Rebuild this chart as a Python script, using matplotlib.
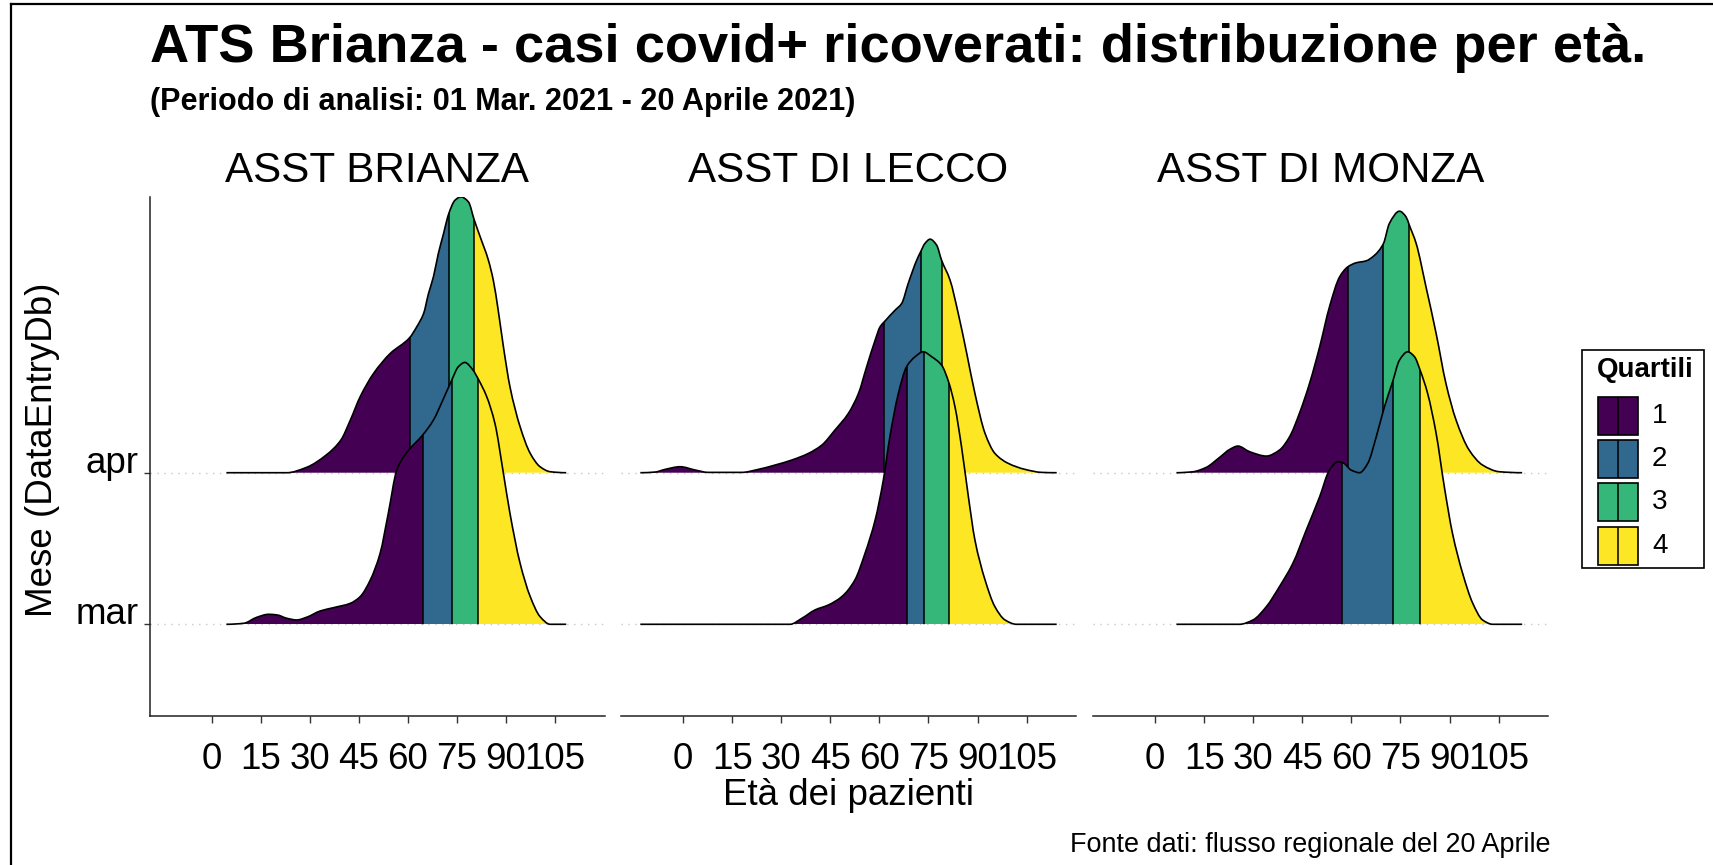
import numpy as np
import matplotlib
matplotlib.use("Agg")
import matplotlib.pyplot as plt
from matplotlib.path import Path
from matplotlib.patches import PathPatch, Rectangle
from matplotlib.lines import Line2D

plt.rcParams['font.family'] = ['Liberation Sans', 'DejaVu Sans']

# ---------------- data ----------------
title = "ATS Brianza - casi covid+ ricoverati: distribuzione per età."
subtitle = "(Periodo di analisi: 01 Mar. 2021 - 20 Aprile 2021)"
caption = "Fonte dati: flusso regionale del 20 Aprile"
x_label = "Età dei pazienti"
y_label = "Mese (DataEntryDb)"
legend_title = "Quartili"

panels = ["ASST BRIANZA", "ASST DI LECCO", "ASST DI MONZA"]
months = ["mar", "apr"]
quartile_labels = ["1", "2", "3", "4"]
quartile_colors = ["#440154", "#31688E", "#35B779", "#FDE725"]
x_ticks = [0, 15, 30, 45, 60, 75, 90, 105]

# relative density (arbitrary units) read at given ages
ages_brianza_apr = [4.5, 23, 29, 35, 39.5, 42.4, 45.4, 49.5, 54.6, 60.5, 62.7, 64.8, 66.3, 67.8, 69.3, 70.9,
                    71.9, 72.5, 74.4, 76.2, 78.5, 80.3, 82.1, 84.6, 86.1, 87.6, 89.2, 91.2, 94.3, 97.4, 100.4,
                    103.5, 108.4]
dens_brianza_apr = [0, 0, 16, 53, 98, 158, 228, 298, 358, 405, 438, 478, 538, 588, 658, 718,
                    758, 778, 818, 828, 813, 758, 708, 638, 578, 488, 378, 258, 138, 58, 18,
                    3, 0]
quart_brianza_apr = [60.5, 72.5, 80.3]

ages_brianza_mar = [4.5, 9.8, 13.8, 17.4, 20, 23, 26, 29, 33.2, 37.3, 42.4, 45.4, 48.5, 51.5, 54, 56.6,
                    58.7, 60.7, 64.5, 67.8, 70.9, 73.4, 75.4, 77.4, 79.9, 81.4, 84.1, 86.6, 89.2, 91.2,
                    94.3, 97.4, 100.4, 103.5, 108.4]
dens_brianza_mar = [0, 3, 21, 30, 28, 18, 13, 21, 40, 50, 63, 83, 133, 213, 333, 463,
                    503, 528, 568, 613, 678, 733, 773, 786, 763, 738, 683, 603, 453, 333,
                    183, 83, 23, 0, 0]
quart_brianza_mar = [64.5, 73.4, 81.4]

ages_lecco_apr = [-13.1, -8.6, -5.5, -0.9, 3.7, 7.7, 17.9, 23, 28.1, 33.2, 38.3, 42.4, 46.4, 50.5, 53.6,
                  56.1, 58.7, 60.2, 61.5, 64.8, 66.8, 68.8, 71.4, 72.6, 73.9, 75.5, 77.5, 79, 81.6, 84.1,
                  86.7, 89.2, 92.3, 95.3, 99.4, 104.5, 109.6, 114.2]
dens_lecco_apr = [0, 2, 10, 18, 8, 1, 1, 10, 23, 38, 58, 83, 128, 178, 238,
                  318, 398, 438, 453, 488, 508, 568, 638, 663, 688, 701, 683, 638, 578, 478,
                  358, 238, 118, 58, 28, 10, 1, 0]
quart_lecco_apr = [61.5, 72.6, 79.0]

ages_lecco_mar = [-13.1, 32.7, 36.3, 40.3, 44.4, 48.5, 52.5, 55.6, 58.7, 61.2, 63.2, 65.8, 68.3, 70.9,
                  73.4, 76, 79, 81.3, 83.1, 85.1, 87.2, 89.2, 92.3, 95.3, 98.4, 101.9, 114.2]
dens_lecco_mar = [0, 0, 18, 43, 58, 83, 133, 213, 313, 433, 563, 693, 773, 803,
                  818, 803, 778, 723, 653, 533, 383, 253, 133, 53, 13, 0, 0]
quart_lecco_mar = [68.3, 73.6, 81.3]

ages_monza_apr = [6.5, 11.6, 15.6, 19.7, 22.8, 25.3, 28.9, 34, 38, 41.1, 44.1, 47.2, 50.3, 53.3, 56.4,
                  58.9, 61.4, 64.5, 67.1, 69.8, 71.6, 74.7, 76.7, 77.7, 79.8, 82.8, 85.9, 88.9, 92, 96,
                  100.1, 105.2, 112.2]
dens_monza_apr = [0, 3, 16, 46, 70, 80, 63, 50, 68, 108, 178, 268, 378, 498, 588,
                  618, 630, 636, 653, 688, 748, 785, 768, 743, 688, 558, 418, 268, 158, 68,
                  23, 3, 0]
quart_monza_apr = [58.9, 69.8, 77.7]

ages_monza_mar = [6.5, 25.8, 29.9, 34, 38, 42.1, 46.2, 50.3, 53.3, 55.9, 57.4, 59.9, 62.5, 65, 67.6,
                  70.1, 72.6, 74.7, 77.2, 79.3, 81, 83.3, 85.9, 88.4, 90.9, 94, 97.1, 100.1, 103.2, 112.2]
dens_monza_mar = [0, 0, 13, 53, 113, 183, 283, 383, 463, 488, 485, 463, 455, 483, 563,
                  653, 728, 793, 818, 803, 763, 693, 573, 413, 273, 153, 63, 13, 0, 0]
quart_monza_mar = [57.2, 72.7, 81.0]

ridges = {
    "ASST BRIANZA": {"mar": (ages_brianza_mar, dens_brianza_mar, quart_brianza_mar),
                     "apr": (ages_brianza_apr, dens_brianza_apr, quart_brianza_apr)},
    "ASST DI LECCO": {"mar": (ages_lecco_mar, dens_lecco_mar, quart_lecco_mar),
                      "apr": (ages_lecco_apr, dens_lecco_apr, quart_lecco_apr)},
    "ASST DI MONZA": {"mar": (ages_monza_mar, dens_monza_mar, quart_monza_mar),
                      "apr": (ages_monza_apr, dens_monza_apr, quart_monza_apr)},
}

# ---------------- layout ----------------
W, H = 1713, 865
DENS_SCALE = 1 / 455.0
fig = plt.figure(figsize=(W / 100, H / 100), dpi=100)


def fx(px):
    return px / W


def fy(py):
    return 1 - py / H


def slopes(x, y):
    n = len(x)
    dx = np.diff(x)
    s = np.diff(y) / dx
    d = np.zeros(n)
    for i in range(1, n - 1):
        if s[i - 1] * s[i] > 0:
            w1 = 2 * dx[i] + dx[i - 1]
            w2 = dx[i] + 2 * dx[i - 1]
            d[i] = (w1 + w2) / (w1 / s[i - 1] + w2 / s[i])
    return d


def ridge_paths(x, h, base):
    x = np.asarray(x, float)
    y = base + np.asarray(h, float) * DENS_SCALE
    d = slopes(x, y)
    verts = [(x[0], y[0])]
    codes = [Path.MOVETO]
    for i in range(len(x) - 1):
        dx = x[i + 1] - x[i]
        verts += [(x[i] + dx / 3, y[i] + d[i] * dx / 3),
                  (x[i + 1] - dx / 3, y[i + 1] - d[i + 1] * dx / 3),
                  (x[i + 1], y[i + 1])]
        codes += [Path.CURVE4] * 3
    outline = Path(verts, codes)
    cverts = [(x[0], base)] + verts + [(x[-1], base), (x[0], base)]
    ccodes = [Path.MOVETO, Path.LINETO] + codes[1:] + [Path.LINETO, Path.CLOSEPOLY]
    closed = Path(cverts, ccodes)
    return outline, closed


panel_left = [149.5, 621, 1093]
panel_w = 455
panel_top, panel_bot = 197, 716
axes = []
for k, name in enumerate(panels):
    ax = fig.add_axes([fx(panel_left[k]), fy(panel_bot), panel_w / W, (panel_bot - panel_top) / H])
    axes.append(ax)
    ax.set_xlim(-19.0, 120.1)
    ax.set_ylim(0.395, 3.819)
    for j, m in enumerate(months):
        ax.axhline(j + 1, color="#c8c8c8", lw=1.0, ls=(0, (1, 4)), zorder=0.5)
    # draw apr first (upper), then mar on top
    for j in [1, 0]:
        m = months[j]
        base = j + 1
        ages, dens, q = ridges[name][m]
        zb = 2 + (1 - j) * 4
        outline, closed = ridge_paths(ages, dens, base)
        clip = PathPatch(closed, transform=ax.transData, facecolor="none", edgecolor="none")
        bounds = [ages[0]] + list(q) + [ages[-1]]
        for qi in range(4):
            r = Rectangle((bounds[qi], base), bounds[qi + 1] - bounds[qi], 3.0,
                          facecolor=quartile_colors[qi], edgecolor="none", zorder=zb)
            ax.add_patch(r)
            r.set_clip_path(clip)
        for qv in q:
            ln, = ax.plot([qv, qv], [base, base + 3.0], color="black", lw=1.1, zorder=zb + 1)
            ln.set_clip_path(clip)
        ax.add_patch(PathPatch(outline, facecolor="none", edgecolor="black", lw=1.2, zorder=zb + 2))
    # axes styling
    for s in ["top", "right"]:
        ax.spines[s].set_visible(False)
    ax.spines["bottom"].set_color("#222222")
    ax.spines["bottom"].set_linewidth(1.1)
    ax.set_xticks(x_ticks)
    ax.set_xticklabels([str(t) for t in x_ticks])
    ax.tick_params(axis="x", length=5, width=1.0, color="#333333", labelsize=26.5, pad=13.5,
                   labelcolor="black")
    if k == 0:
        ax.spines["left"].set_color("#222222")
        ax.spines["left"].set_linewidth(1.1)
        ax.set_yticks([1, 2])
        ax.set_yticklabels(months, va="baseline")
        ax.tick_params(axis="y", length=4.3, width=1.0, color="#333333", labelsize=26.5, pad=3.6,
                       labelcolor="black")
    else:
        ax.spines["left"].set_visible(False)
        ax.set_yticks([])
    ax.set_facecolor("none")

# ---------------- texts ----------------
t_title = fig.text(fx(150), fy(62), title, fontsize=34, fontweight="bold", ha="left", va="baseline")
t_sub = fig.text(fx(150), fy(110), subtitle, fontsize=17, fontweight="bold", ha="left", va="baseline")
strips = []
for k, name in enumerate(panels):
    strips.append(fig.text(fx(panel_left[k] + panel_w / 2), fy(182), name, fontsize=30,
                           ha="center", va="baseline"))
t_xl = fig.text(fx(848.5), fy(805), x_label, fontsize=26.5, ha="center", va="baseline")
t_yl = fig.text(fx(43), fy(450), y_label, fontsize=26.5, ha="center", va="center", rotation=90)
t_cap = fig.text(fx(1551), fy(852), caption, fontsize=18, ha="right", va="baseline")

# legend
fig.add_artist(Rectangle((fx(1582), fy(568)), (1704 - 1582) / W, (568 - 350) / H,
                         transform=fig.transFigure, facecolor="white", edgecolor="black", lw=1.2))
t_leg = fig.text(fx(1597), fy(377), legend_title, fontsize=20, fontweight="bold", ha="left",
                 va="baseline")
for i, lab in enumerate(quartile_labels):
    top = 397 + i * 43.2
    fig.add_artist(Rectangle((fx(1598), fy(top + 38)), 40 / W, 38 / H, transform=fig.transFigure,
                             facecolor=quartile_colors[i], edgecolor="black", lw=1.2))
    fig.add_artist(Line2D([fx(1618), fx(1618)], [fy(top + 1), fy(top + 37)], transform=fig.transFigure,
                          color="black", lw=1.1))
    fig.text(fx(1652), fy(top + 19), lab, fontsize=20, ha="left", va="center")

# outer frame (top and left edges of the screenshot)
fig.add_artist(Line2D([fx(11), 1], [fy(4), fy(4)], transform=fig.transFigure, color="black", lw=1.6))
fig.add_artist(Line2D([fx(11), fx(11)], [0, fy(4)], transform=fig.transFigure, color="black", lw=1.6))

# fit main texts to measured widths
fig.canvas.draw()
r = fig.canvas.get_renderer()


def fit(t, width_px, vertical=False):
    bb = t.get_window_extent(renderer=r)
    cur = bb.height if vertical else bb.width
    t.set_fontsize(t.get_fontsize() * width_px / cur)


fit(t_title, 1498)
fit(t_sub, 708)
fit(strips[0], 303)
for s in strips[1:]:
    s.set_fontsize(strips[0].get_fontsize())
fit(t_cap, 480)

fig.savefig("out.png", dpi=100)
